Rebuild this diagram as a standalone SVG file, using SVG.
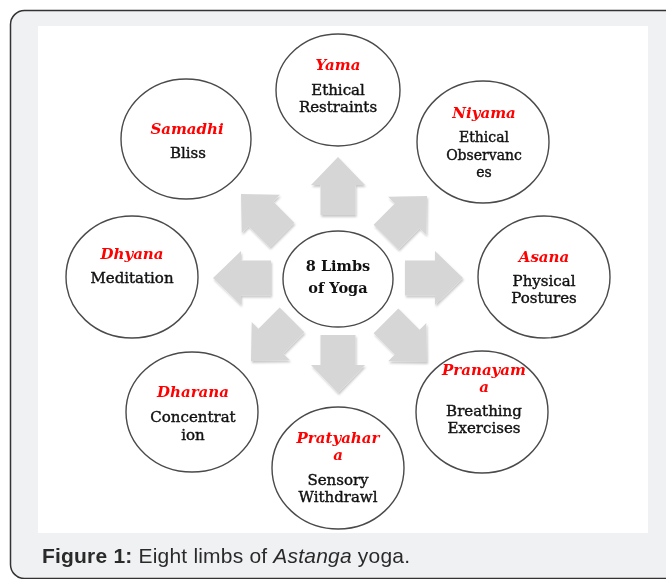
<svg xmlns="http://www.w3.org/2000/svg" width="666" height="579" viewBox="0 0 666 579">
<style>
.node ellipse{fill:#fff;stroke:#4a4a4a;stroke-width:1.4}
.t{font-family:"DejaVu Serif","Liberation Serif",serif;font-size:15px;font-style:italic;font-weight:bold;fill:#ff0000;text-anchor:middle}
.l{font-family:"DejaVu Serif","Liberation Serif",serif;font-size:15px;fill:#111;stroke:#111;stroke-width:0.4;text-anchor:middle}
.s{font-size:14px}
.c{font-family:"DejaVu Serif","Liberation Serif",serif;font-size:14.5px;font-weight:bold;fill:#111;text-anchor:middle}
.arrow{fill:#d6d6d6}
.cap{font-family:"Liberation Sans",Arial,sans-serif;font-size:21px;fill:#2a2a2a}
</style>
<defs>
<filter id="sh" x="-20%" y="-20%" width="140%" height="140%">
<feDropShadow dx="1" dy="2" stdDeviation="1.2" flood-color="#000" flood-opacity="0.22"/>
</filter>
<path id="arr" d="M-58,-17.5 H-28 V-27 L0,0 L-28,27 V17.5 H-58 Z"/>
</defs>
<rect x="10.5" y="10.5" width="690" height="568" rx="14" fill="#f0f1f3" stroke="#333" stroke-width="1.5"/>
<rect x="38" y="26" width="610" height="507" fill="#fff"/>
<g id="connectors" class="arrow" filter="url(#sh)">
<use href="#arr" transform="translate(338,157) rotate(-90)"/>
<use href="#arr" transform="translate(463,278)"/>
<use href="#arr" transform="translate(213,278) rotate(180)"/>
<use href="#arr" transform="translate(338,393) rotate(90)"/>
<use href="#arr" transform="translate(241,194) rotate(-135)"/>
<use href="#arr" transform="translate(427,196) rotate(-45)"/>
<use href="#arr" transform="translate(251,361) rotate(135)"/>
<use href="#arr" transform="translate(427,362) rotate(45)"/>
</g>
<g id="center" class="node"><ellipse cx="338" cy="279" rx="55" ry="48"/><text class="c" x="338" y="271">8 Limbs</text><text class="c" x="338" y="293">of Yoga</text></g>
<g id="yama" class="node"><ellipse cx="338" cy="90" rx="62" ry="56"/><text class="t" x="338" y="70">Yama</text><text class="l" x="338" y="95">Ethical</text><text class="l" x="338" y="112">Restraints</text></g>
<g id="niyama" class="node"><ellipse cx="483" cy="142" rx="66" ry="61"/><text class="t" x="484" y="118">Niyama</text><text class="l s" x="484" y="142">Ethical</text><text class="l s" x="484" y="160">Observanc</text><text class="l s" x="484" y="177">es</text></g>
<g id="samadhi" class="node"><ellipse cx="186" cy="139" rx="65" ry="60"/><text class="t" x="187" y="134">Samadhi</text><text class="l" x="188" y="158">Bliss</text></g>
<g id="dhyana" class="node"><ellipse cx="132" cy="277" rx="66" ry="61"/><text class="t" x="132" y="259">Dhyana</text><text class="l" x="132" y="283">Meditation</text></g>
<g id="asana" class="node"><ellipse cx="544" cy="277" rx="66" ry="61"/><text class="t" x="544" y="262">Asana</text><text class="l" x="544" y="286">Physical</text><text class="l" x="544" y="303">Postures</text></g>
<g id="dharana" class="node"><ellipse cx="192" cy="412" rx="66" ry="60"/><text class="t" x="193" y="397">Dharana</text><text class="l" x="193" y="422">Concentrat</text><text class="l" x="193" y="440">ion</text></g>
<g id="pranayama" class="node"><ellipse cx="482" cy="412" rx="66" ry="61"/><text class="t" x="484" y="375">Pranayam</text><text class="t" x="484" y="392">a</text><text class="l" x="484" y="416">Breathing</text><text class="l" x="484" y="433">Exercises</text></g>
<g id="pratyahara" class="node"><ellipse cx="338" cy="468" rx="66" ry="61"/><text class="t" x="338" y="443">Pratyahar</text><text class="t" x="338" y="460">a</text><text class="l" x="338" y="485">Sensory</text><text class="l" x="338" y="502">Withdrawl</text></g>
<text class="cap" x="42" y="563" textLength="368" lengthAdjust="spacing"><tspan font-weight="bold">Figure 1:</tspan> Eight limbs of <tspan font-style="italic">Astanga</tspan> yoga.</text>
</svg>
